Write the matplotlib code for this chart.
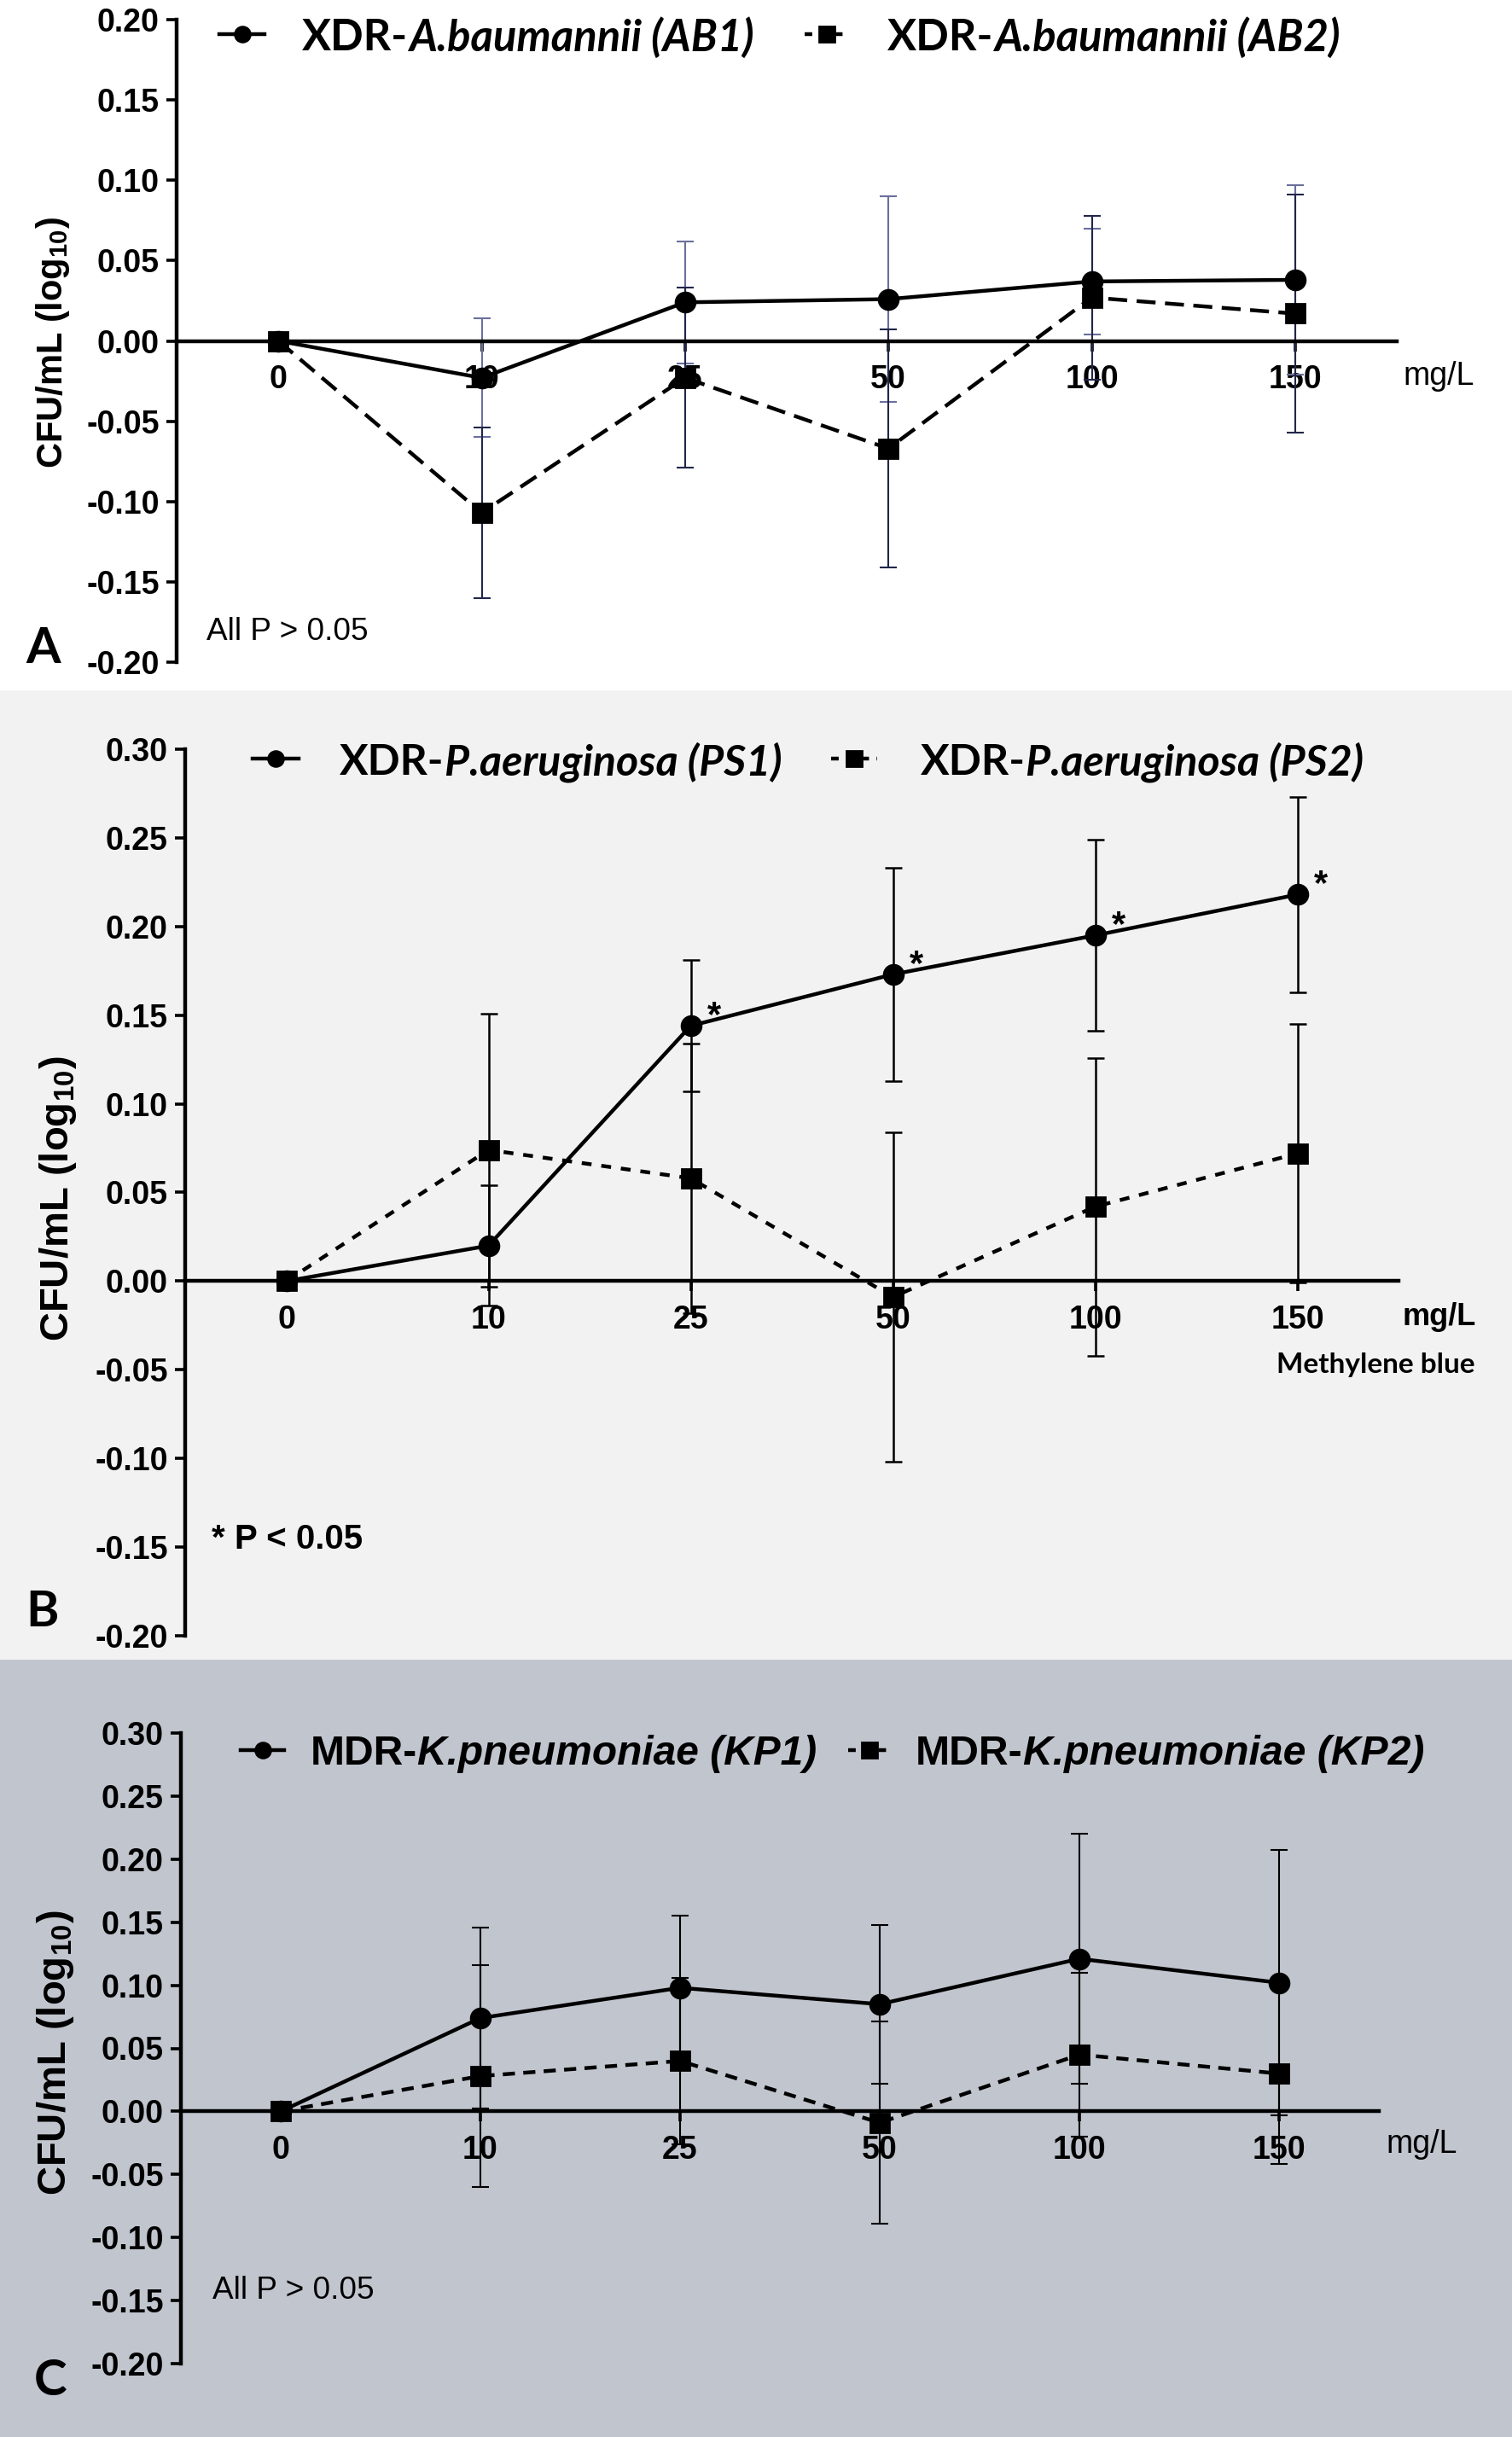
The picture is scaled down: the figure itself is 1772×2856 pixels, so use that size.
"""Three-panel CFU change plot (A. baumannii, P. aeruginosa, K. pneumoniae) vs methylene blue dose."""

import matplotlib
import numpy as np

matplotlib.use("Agg")
import matplotlib.pyplot as plt
from matplotlib import font_manager
from matplotlib.lines import Line2D
from matplotlib.patches import Rectangle

W, H, DPI = 1772, 2856, 200

DOSES = ["0", "10", "25", "50", "100", "150"]

AB1_MEAN = [0.0, -0.023, 0.024, 0.026, 0.037, 0.038]
AB1_SD = [0.0, 0.037, 0.038, 0.064, 0.033, 0.059]
AB2_MEAN = [0.0, -0.107, -0.023, -0.067, 0.027, 0.017]
AB2_SD = [0.0, 0.053, 0.056, 0.074, 0.051, 0.074]

PS1_MEAN = [0.0, 0.020, 0.144, 0.173, 0.195, 0.218]
PS1_SD = [0.0, 0.034, 0.037, 0.060, 0.054, 0.055]
PS2_MEAN = [0.0, 0.074, 0.058, -0.009, 0.042, 0.072]
PS2_SD = [0.0, 0.077, 0.076, 0.093, 0.084, 0.073]
PS1_STARS = [False, False, True, True, True, True]

KP1_MEAN = [0.0, 0.074, 0.098, 0.085, 0.121, 0.102]
KP1_SD = [0.0, 0.072, 0.057, 0.063, 0.099, 0.105]
KP2_MEAN = [0.0, 0.028, 0.040, -0.009, 0.045, 0.030]
KP2_SD = [0.0, 0.088, 0.066, 0.080, 0.065, 0.072]

ARIAL = "Liberation Sans"
CALIBRI = "Lato"
LW = 1.6

installed = {f.name for f in font_manager.fontManager.ttflist}
NARROW = "Liberation Sans Narrow" if "Liberation Sans Narrow" in installed else None

plt.rcParams["axes.unicode_minus"] = False
plt.rcParams["mathtext.default"] = "regular"


def fx(x):
    return x / W


def fy(y):
    return 1 - y / H


def box(left, top, right, bottom):
    return [fx(left), fy(bottom), (right - left) / W, (bottom - top) / H]


def style_axes(ax, lo, hi):
    ax.set_facecolor("none")
    ax.set_xlim(-0.5, 5.5)
    ax.set_ylim(lo, hi)
    for side in ("top", "right"):
        ax.spines[side].set_visible(False)
    ax.spines["bottom"].set_position(("data", 0))
    ax.spines["left"].set_linewidth(LW)
    ax.spines["bottom"].set_linewidth(LW)
    ticks = np.round(np.arange(lo, hi + 0.001, 0.05), 2) + 0.0
    ax.set_yticks(ticks, [f"{t:.2f}" for t in ticks])
    ax.set_xticks(range(len(DOSES)), DOSES)
    ax.tick_params(axis="y", length=4.3, width=1.3, pad=3, labelsize=13.5)
    ax.tick_params(axis="x", length=4.3, width=1.3, pad=5.5, labelsize=13.5)
    for label in ax.get_xticklabels() + ax.get_yticklabels():
        label.set_fontfamily(ARIAL)
        label.set_fontweight("bold")


def series(ax, mean, sd, ls, marker, ecolor, elw=0.8):
    x = range(len(mean))
    ax.errorbar(x, mean, yerr=sd, fmt="none", ecolor=ecolor, elinewidth=elw,
                capsize=3.6, capthick=elw, zorder=2)
    ax.plot(x, mean, color="black", linestyle=ls, lw=LW, marker=marker,
            ms=8.2 if marker == "o" else 7.6, zorder=3)


def handle(fig, x0, x1, y, marker, ls):
    fig.add_artist(Line2D([fx(x0), fx(x1)], [fy(y), fy(y)], transform=fig.transFigure,
                          color="black", lw=LW, linestyle=ls))
    fig.add_artist(Line2D([fx((x0 + x1) / 2)], [fy(y)], transform=fig.transFigure,
                          color="black", marker=marker, ms=6.4, linestyle="none"))


fig = plt.figure(figsize=(W / DPI, H / DPI), dpi=DPI)
fig.add_artist(Rectangle((0, fy(1946)), 1, (1946 - 810) / H, transform=fig.transFigure,
                         color="#f2f2f2", zorder=-10))
fig.add_artist(Rectangle((0, 0), 1, 1 - 1946 / H, transform=fig.transFigure,
                         color="#c1c5ce", zorder=-10))

ax_a = fig.add_axes(box(207, 23, 1637, 776))
style_axes(ax_a, -0.20, 0.20)
series(ax_a, AB1_MEAN, AB1_SD, "-", "o", "#6a6f9c", 0.75)
series(ax_a, AB2_MEAN, AB2_SD, (0, (5, 2.5)), "s", "#22264a", 0.75)

ax_b = fig.add_axes(box(217, 878, 1639, 1917))
style_axes(ax_b, -0.20, 0.30)
series(ax_b, PS1_MEAN, PS1_SD, "-", "o", "black", 0.9)
series(ax_b, PS2_MEAN, PS2_SD, (0, (2.6, 2.6)), "s", "black", 0.9)
for i, star in enumerate(PS1_STARS):
    if star:
        ax_b.text(i + 0.08, PS1_MEAN[i], "*", family=ARIAL, fontweight="bold",
                  fontsize=15, ha="left", va="baseline")

ax_c = fig.add_axes(box(212, 2031, 1616, 2770))
style_axes(ax_c, -0.20, 0.30)
series(ax_c, KP1_MEAN, KP1_SD, "-", "o", "black", 0.75)
series(ax_c, KP2_MEAN, KP2_SD, (0, (3.2, 2.2)), "s", "black", 0.75)

# y labels, panel letters and notes
YLABEL = r"CFU/mL (log$_{10}$)"
if NARROW:
    fig.text(fx(62), fy(401), YLABEL, rotation=90, ha="center", va="center",
             family=NARROW, fontweight="bold", fontsize=18)
else:
    fig.text(fx(62), fy(401), YLABEL, rotation=90, ha="center", va="center",
             family=ARIAL, fontweight="bold", fontsize=15)
fig.text(fx(68), fy(1405), YLABEL, rotation=90, ha="center", va="center",
         family=ARIAL, fontweight="bold", fontsize=17)
fig.text(fx(65), fy(2406), YLABEL, rotation=90, ha="center", va="center",
         family=ARIAL, fontweight="bold", fontsize=17)

for letter, x, y in (("A", 30, 777), ("B", 30, 1906), ("C", 40, 2807)):
    fig.text(fx(x), fy(y), letter, family=CALIBRI, fontweight="bold", fontsize=21,
             va="baseline")

fig.text(fx(242), fy(750), "All P > 0.05", family=ARIAL, fontsize=13.3, va="baseline")
fig.text(fx(248), fy(1815), "* P < 0.05", family=ARIAL, fontweight="bold", fontsize=14.5,
         va="baseline")
fig.text(fx(249), fy(2694), "All P > 0.05", family=ARIAL, fontsize=13.3, va="baseline")

fig.text(fx(1644), fy(451), "mg/L", family=ARIAL, fontsize=13.5, va="baseline")
fig.text(fx(1644), fy(1553), "mg/L", family=ARIAL, fontweight="bold", fontsize=13,
         va="baseline")
fig.text(fx(1729), fy(1609), "Methylene blue", family=CALIBRI, fontweight="bold",
         fontsize=12, ha="right", va="baseline")
fig.text(fx(1624), fy(2523), "mg/L", family=ARIAL, fontsize=13.5, va="baseline")

# legends: (handle x0, x1, text x, text right, centre y, marker, style, upright, italic, family)
LEGENDS = [
    (257, 310, 354, 884, 40, "o", "-", "XDR-", "A.baumannii (AB1)", CALIBRI),
    (943, 994, 1040, 1571, 40, "s", (0, (2, 2)), "XDR-", "A.baumannii (AB2)", CALIBRI),
    (296, 350, 398, 917, 889, "o", "-", "XDR-", "P.aeruginosa (PS1)", CALIBRI),
    (974, 1028, 1079, 1599, 889, "s", (0, (2, 2)), "XDR-", "P.aeruginosa (PS2)", CALIBRI),
    (282, 333, 364, 958, 2051, "o", "-", "MDR-", "K.pneumoniae (KP1)", ARIAL),
    (994, 1045, 1073, 1670, 2051, "s", (0, (2, 2)), "MDR-", "K.pneumoniae (KP2)", ARIAL),
]

pieces = []
for x0, x1, xt, xr, y, marker, ls, upright, italic, family in LEGENDS:
    handle(fig, x0, x1, y, marker, ls)
    t1 = fig.text(fx(xt), fy(y), upright, family=family, fontweight="bold", fontsize=16,
                  va="center_baseline")
    t2 = fig.text(fx(xt), fy(y), italic, family=family, fontweight="bold", style="italic",
                  fontsize=16, va="center_baseline")
    pieces.append((t1, t2, xt, xr))

renderer = fig.canvas.get_renderer()
for t1, t2, xt, xr in pieces:
    w1 = t1.get_window_extent(renderer).width
    w2 = t2.get_window_extent(renderer).width
    scale = (xr - xt) / (w1 + w2)
    t1.set_fontsize(16 * scale)
    t2.set_fontsize(16 * scale)
    t2.set_x(fx(xt + w1 * scale))

fig.savefig("out.png", dpi=DPI)
